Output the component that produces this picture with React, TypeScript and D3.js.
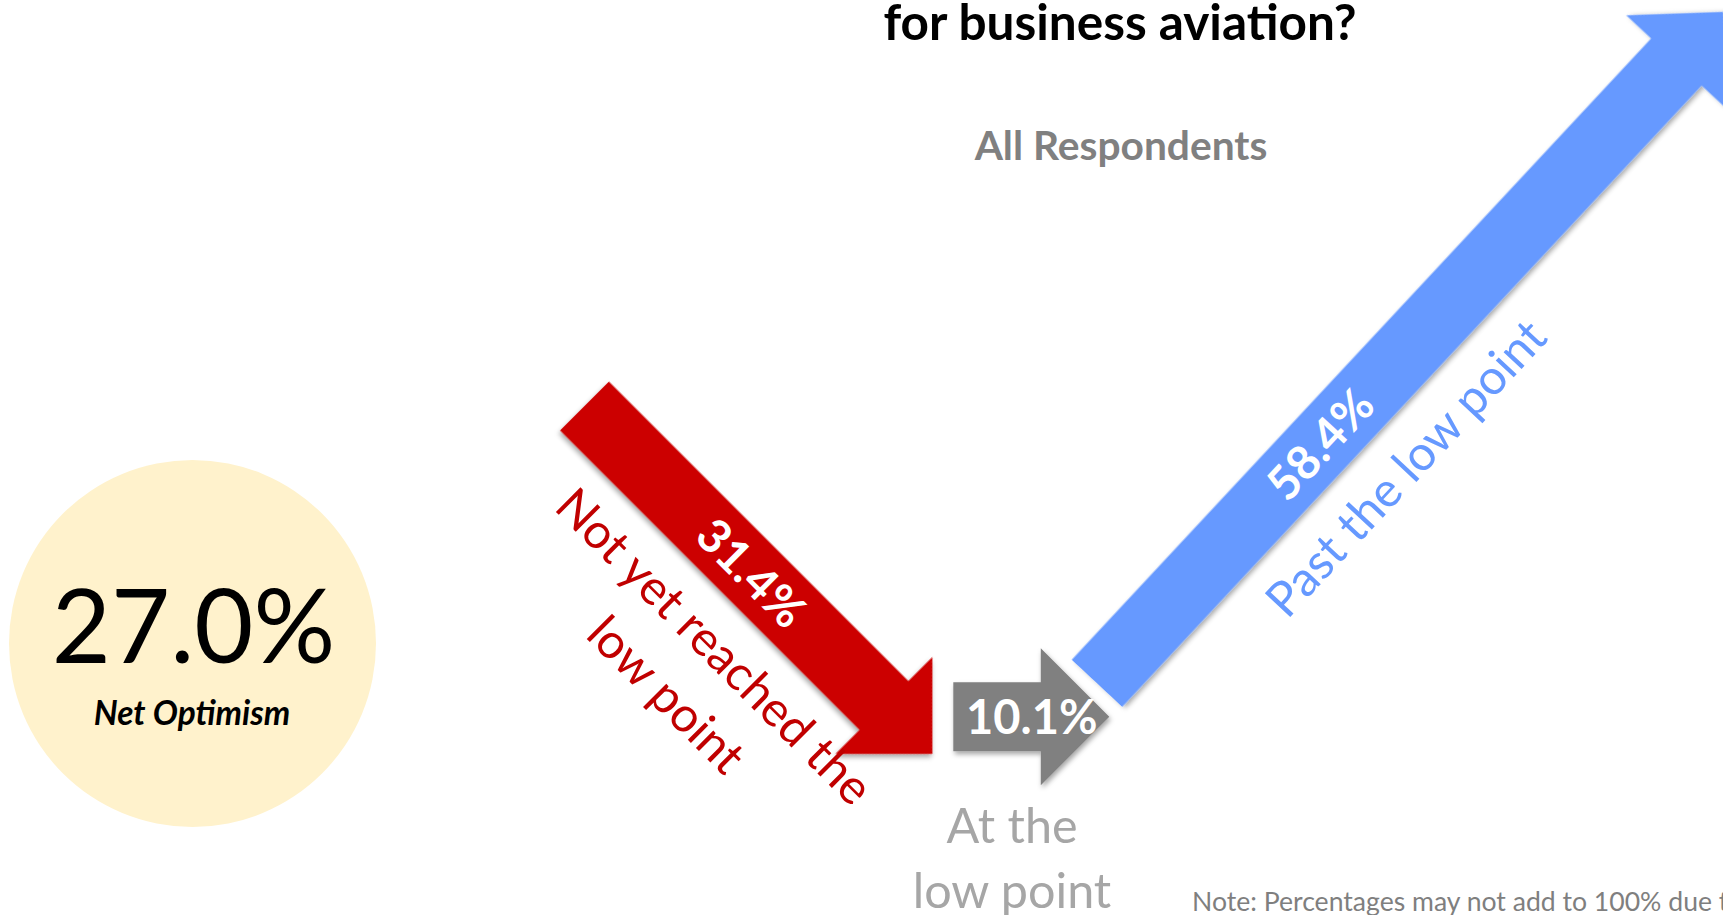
import React from "react";
import * as d3 from "d3";

// ---------- data ----------
const categories = ["Not yet reached the low point", "At the low point", "Past the low point"];
const values = [31.4, 10.1, 58.4];
const labelLines = [["Not yet reached the", "low point"], ["At the", "low point"], ["Past the low point"]];
const netOptimism = 27.0;
const netLabel = "Net Optimism";
const titleLine = "for business aviation?";
const subtitle = "All Respondents";
const note = "Note: Percentages may not add to 100% due to rounding";

// ---------- layout / styles ----------
const W = 1723;
const H = 915;
const FONT = "Lato, 'Open Sans', sans-serif";
const arrowColors = ["#CC0000", "#808080", "#6699FF"];
const labelColors = ["#C00000", "#A6A6A6", "#6699FF"];
const SHAFT = 34.5; // half shaft width
const HEAD = 68.5; // half head width, and head length

type ArrowLayout = {
  tail: [number, number];
  angle: number;
  length: number;
  valueU: number;
  labelU: number;
  labelV: number[];
  rotateLabel: boolean;
};

const layout: ArrowLayout[] = [
  { tail: [584.5, 406], angle: 45, length: 492, valueU: 236, labelU: 262, labelV: [82, 150], rotateLabel: true },
  { tail: [953.3, 716.7], angle: 0, length: 156, valueU: 78.4, labelU: 0, labelV: [0, 0], rotateLabel: false },
  { tail: [1097, 683.3], angle: -47, length: 918, valueU: 327, labelU: 368, labelV: [83], rotateLabel: true },
];

const fmt = d3.format(".1f");

function arrowPath(L: number): string {
  const pts: [number, number][] = [
    [0, -SHAFT],
    [L - HEAD, -SHAFT],
    [L - HEAD, -HEAD],
    [L, 0],
    [L - HEAD, HEAD],
    [L - HEAD, SHAFT],
    [0, SHAFT],
  ];
  return d3.line()(pts) + "Z";
}

export default function App() {
  return (
    <svg
      width={W}
      height={H}
      viewBox={`0 0 ${W} ${H}`}
      style={{ position: "absolute", left: 0, top: 0, background: "#fff", overflow: "hidden" }}
      fontFamily={FONT}
    >
      <defs>
        <filter id="shadow" x="-20%" y="-20%" width="140%" height="140%">
          <feDropShadow dx="1.5" dy="3" stdDeviation="2.5" floodColor="#000" floodOpacity="0.35" />
        </filter>
      </defs>

      {/* title */}
      <text x={1120} y={40} textAnchor="middle" fontSize={49.5} fontWeight={700} fill="#000">
        {titleLine}
      </text>
      <text x={1121} y={160} textAnchor="middle" fontSize={40.7} fontWeight={700} fill="#808080">
        {subtitle}
      </text>

      {/* net optimism circle */}
      <circle cx={192.5} cy={643.5} r={183.5} fill="#FFF2CC" />
      <text x={193.5} y={663} textAnchor="middle" fontSize={102} fill="#000">
        {fmt(netOptimism)}%
      </text>
      <text x={192} y={725} textAnchor="middle" fontSize={33.4} fontWeight={700} fontStyle="italic" fill="#000">
        {netLabel}
      </text>

      {/* arrows */}
      {categories.map((c, i) => {
        const l = layout[i];
        return (
          <g key={c} transform={`translate(${l.tail[0]},${l.tail[1]}) rotate(${l.angle})`}>
            <path d={arrowPath(l.length)} fill={arrowColors[i]} filter="url(#shadow)" />
            <text x={l.valueU} y={0} dy="0.36em" textAnchor="middle" fontSize={47} fontWeight={700} fill="#fff">
              {fmt(values[i])}%
            </text>
            {l.rotateLabel &&
              labelLines[i].map((line, j) => (
                <text
                  key={j}
                  x={l.labelU}
                  y={l.labelV[j]}
                  dy="0.27em"
                  textAnchor="middle"
                  fontSize={48.5}
                  fill={labelColors[i]}
                >
                  {line}
                </text>
              ))}
          </g>
        );
      })}

      {/* gray label (not rotated) */}
      {labelLines[1].map((line, j) => (
        <text key={j} x={1012} y={843.3 + j * 65} textAnchor="middle" fontSize={48.5} fill={labelColors[1]}>
          {line}
        </text>
      ))}

      {/* note */}
      <text x={1192} y={911} fontSize={26.6} fill="#7F7F7F">
        {note}
      </text>
    </svg>
  );
}
